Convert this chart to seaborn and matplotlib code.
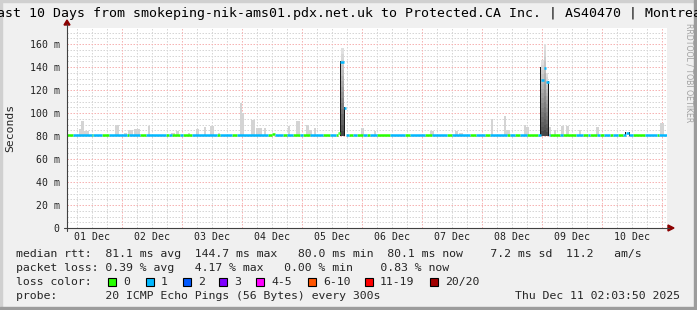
import matplotlib
matplotlib.use("Agg")
import matplotlib.pyplot as plt
import seaborn as sns
import pandas as pd
import numpy as np
from matplotlib.patches import Rectangle, Polygon
from matplotlib.lines import Line2D

# ---------------- data (hours since 2025-12-01 02:03:50, values in ms) ----------------
first_midnight_h = 21.936          # Dec 2 00:00 relative to start
span_h = 240.0
day_labels = ["01 Dec", "02 Dec", "03 Dec", "04 Dec", "05 Dec",
              "06 Dec", "07 Dec", "08 Dec", "09 Dec", "10 Dec"]
y_ticks = [0, 20, 40, 60, 80, 100, 120, 140, 160]
y_tick_labels = ["0", "20 m", "40 m", "60 m", "80 m", "100 m", "120 m", "140 m", "160 m"]

base_median = 80.5
# median excursions
med_start = [82.0, 108.4, 109.2, 110.8, 189.6, 190.8, 191.6, 223.6]
med_end   = [83.2, 109.2, 110.8, 111.6, 190.8, 191.6, 192.8, 224.8]
med_value = [81.8, 83.0, 144.7, 104.0, 128.7, 139.0, 127.0, 83.0]
med_loss  = ["0", "0", "1", "1", "1", "1", "1", "1"]

# periods with zero loss (green); elsewhere 1 loss (blue)
green_start = [0.0, 10.0, 14.0, 24.0, 29.2, 39.6, 42.0, 46.4, 60.0, 66.0, 80.4, 86.4, 90.4,
               94.4, 102.4, 107.6, 112.8, 116.0, 120.0, 124.0, 135.2, 143.2, 152.0, 161.2,
               167.2, 176.0, 179.2, 184.0, 193.2, 198.4, 206.4, 209.2, 213.2, 217.2, 220.4,
               226.4, 236.0]
green_end   = [2.4, 10.4, 16.8, 24.8, 31.6, 40.8, 45.2, 50.0, 61.2, 68.0, 83.2, 88.0, 93.2,
               97.2, 105.2, 108.8, 114.4, 118.4, 121.2, 129.2, 137.2, 146.0, 154.0, 163.6,
               169.2, 177.2, 181.2, 188.4, 197.2, 203.6, 208.4, 212.0, 214.8, 218.4, 222.4,
               231.2, 236.8]

# light smoke (ping spread) bars
smoke_start = [4.8, 5.6, 6.8, 19.2, 22.8, 24.4, 26.8, 32.4, 41.6, 43.6, 48.4, 51.6, 54.8, 57.2,
               60.4, 69.2, 70.0, 73.6, 75.6, 78.8, 88.4, 91.6, 95.6, 96.8, 98.8, 117.6, 122.8,
               145.2, 155.2, 156.8, 169.6, 174.8, 175.6, 182.8, 183.6, 192.8, 194.8, 197.6,
               199.6, 204.8, 211.6, 237.2]
smoke_end   = [5.6, 6.8, 8.8, 20.8, 24.0, 26.4, 29.2, 33.2, 43.2, 44.8, 49.2, 52.8, 55.6, 58.8,
               61.2, 70.0, 70.8, 75.2, 78.0, 79.6, 89.2, 93.2, 96.8, 98.0, 99.6, 118.8, 123.6,
               146.8, 156.4, 158.4, 170.4, 175.6, 177.2, 183.6, 184.8, 193.6, 195.6, 198.8,
               200.8, 205.6, 212.8, 238.8]
smoke_top   = [86, 93, 84, 90, 83, 85, 86, 89, 83, 84, 83, 86, 88, 89,
               83, 109, 100, 94, 87, 87, 89, 93, 90, 85, 87, 87, 84,
               84, 84, 83, 95, 97, 85, 90, 88, 88, 85, 89,
               89, 85, 88, 91]

# dense smoke around the latency spikes
spk_start = [109.2, 109.6, 110.8, 189.2, 189.6, 190.8, 191.6, 192.4, 223.2, 224.8]
spk_end   = [109.6, 110.8, 111.2, 189.6, 190.8, 191.6, 192.4, 192.8, 223.6, 225.2]
spk_low   = [80, 80, 80, 80, 80, 80, 80, 80, 80, 80]
spk_high  = [145, 156, 105, 140, 146, 160, 135, 128, 83.5, 83.5]
spk_kind  = ["edge", "grad", "edge", "edge", "grad", "grad", "grad", "edge", "edge", "edge"]

loss_labels = ["0", "1", "2", "3", "4-5", "6-10", "11-19", "20/20"]
loss_colors = ["#26ff00", "#00b8ff", "#0059ff", "#7e00ff", "#ff00ff", "#ff5500", "#ff0000", "#a10000"]

stats_line1 = "median rtt:  81.1 ms avg  144.7 ms max   80.0 ms min  80.1 ms now    7.2 ms sd  11.2   am/s"
stats_line2 = "packet loss: 0.39 % avg   4.17 % max   0.00 % min    0.83 % now"
probe_line = "probe:       20 ICMP Echo Pings (56 Bytes) every 300s"
stamp = "Thu Dec 11 02:03:50 2025"
title = "Last 10 Days from smokeping-nik-ams01.pdx.net.uk to Protected.CA Inc. | AS40470 | Montreal"

# ---------------- figure ----------------
sns.set_theme(style="white")
MONO = "DejaVu Sans Mono"
plt.rcParams["font.family"] = [MONO, "DejaVu Sans"]

W, H = 697, 310
fig = plt.figure(figsize=(W / 100, H / 100), dpi=100, facecolor="#f0f0f0")

def fx(px):
    return px / W

def fy(py):
    return 1 - py / H

# 3D border
fig.patches.append(Rectangle((0, fy(2)), 1, 2 / H, transform=fig.transFigure, color="#d0d0d0", zorder=0))
fig.patches.append(Rectangle((0, 0), 2 / W, 1, transform=fig.transFigure, color="#d0d0d0", zorder=0))
fig.patches.append(Rectangle((0, 0), 1, 3 / H, transform=fig.transFigure, color="#9c9c9c", zorder=0))
fig.patches.append(Rectangle((fx(694), 0), 3 / W, 1, transform=fig.transFigure, color="#9c9c9c", zorder=0))

L, R, T, B = 67, 667, 28, 228
ax = fig.add_axes([fx(L), fy(B), (R - L) / W, (B - T) / H])
ax.set_facecolor("white")
ax.set_xlim(0, span_h)
ax.set_ylim(0, 200 / 1.15)
for s in ax.spines.values():
    s.set_visible(False)

# grid
GRAY = "#d6d6d6"
RED = "#f6b4b4"
dash = dict(linewidth=0.72, dashes=(1.5, 1.5))
for v in np.arange(5, 175, 5):
    if v % 20:
        ax.axhline(v, color=GRAY, zorder=0.5, **dash)
for v in y_ticks[1:]:
    ax.axhline(v, color=RED, zorder=0.6, **dash)
minor_h = np.arange(first_midnight_h - 18, span_h, 6)
for h in minor_h:
    if h <= 0:
        continue
    is_major = abs(((h - first_midnight_h) / 24) - round((h - first_midnight_h) / 24)) < 1e-6
    ax.axvline(h, color=RED if is_major else GRAY, zorder=0.6 if is_major else 0.5, **dash)

# light smoke bars
ax.bar(smoke_start, np.array(smoke_top) - 80.0, bottom=80.0,
       width=np.array(smoke_end) - np.array(smoke_start), align="edge",
       color="#d4d4d4", linewidth=0, zorder=1)

# dense smoke with gradient
for a, b, lo, hi, kind in zip(spk_start, spk_end, spk_low, spk_high, spk_kind):
    if kind == "edge":
        ax.bar(a, hi - lo, bottom=lo, width=b - a, align="edge", color="#181818", linewidth=0, zorder=1.5)
    else:
        n = 16
        step = (hi - lo) / n
        for k in range(n):
            g = 0.28 + 0.6 * (k / (n - 1)) ** 0.9
            ax.bar(a, step * 1.02, bottom=lo + k * step, width=b - a, align="edge",
                   color=(g, g, g), linewidth=0, zorder=1.5)

# median line coloured by loss
bps = sorted(set([0.0, span_h] + green_start + green_end + med_start + med_end))
rows = []
for i in range(len(bps) - 1):
    a, b = bps[i], bps[i + 1]
    m = (a + b) / 2
    val, loss = base_median, "1"
    if any(gs <= m < ge for gs, ge in zip(green_start, green_end)):
        loss = "0"
    for ms, me, mv, ml in zip(med_start, med_end, med_value, med_loss):
        if ms <= m < me:
            val, loss = mv, ml
    rows.append((a, val, i, loss))
    rows.append((b, val, i, loss))
df = pd.DataFrame(rows, columns=["h", "ms", "seg", "loss"])
sns.lineplot(data=df, x="h", y="ms", hue="loss", units="seg", estimator=None,
             palette=dict(zip(loss_labels, loss_colors)), legend=False, sort=False,
             linewidth=1.8, ax=ax, zorder=3, solid_capstyle="butt")
ax.set_xlim(0, span_h)
ax.set_ylim(0, 200 / 1.15)

# ticks / labels
ax.set_yticks(y_ticks)
ax.set_yticklabels(y_tick_labels, fontsize=7.1, family=MONO, color="#202020")
noon_h = [first_midnight_h - 12 + 24 * k for k in range(10)]
ax.set_xticks(noon_h)
ax.set_xticklabels(day_labels, fontsize=7.1, family=MONO, color="#202020")
ax.tick_params(axis="y", length=0, pad=5.2)
ax.tick_params(axis="x", length=0, pad=3.2)
ax.set_xlabel("")
ax.set_ylabel("")
ax.grid(False)

# axes with arrows
AX = "#404040"
fig.add_artist(Line2D([fx(L), fx(L)], [fy(B + 3), fy(T - 4)], transform=fig.transFigure, color=AX, lw=0.8))
fig.add_artist(Line2D([fx(L - 3), fx(669)], [fy(B), fy(B)], transform=fig.transFigure, color=AX, lw=0.8))
fig.add_artist(Polygon([(fx(L - 3), fy(T - 3)), (fx(L + 3), fy(T - 3)), (fx(L), fy(T - 8))],
                       closed=True, transform=fig.transFigure, color="#8b0000"))
fig.add_artist(Polygon([(fx(668), fy(B - 3)), (fx(668), fy(B + 3)), (fx(674), fy(B))],
                       closed=True, transform=fig.transFigure, color="#8b0000"))

# texts
fig.text(fx(-11), fy(17), title, fontsize=9.5, family=MONO, ha="left", va="baseline", color="black")
fig.text(fx(10.5), fy(128), "Seconds", rotation=90, fontsize=8.2, family=MONO, ha="center", va="center")
fig.text(fx(689), fy(23), "RRDTOOL / TOBI OETIKER", rotation=270, fontsize=5.6,
         family="DejaVu Sans", ha="center", va="top", color="#a0a0a0")

LX = 16
fs = 8.25
fig.text(fx(LX), fy(254), stats_line1, fontsize=fs, family=MONO, ha="left", va="center")
fig.text(fx(LX), fy(268), stats_line2, fontsize=fs, family=MONO, ha="left", va="center")
fig.text(fx(LX), fy(282), "loss color:", fontsize=fs, family=MONO, ha="left", va="center")
box_x = [108, 146, 183, 219, 256, 308, 365, 430]
for bx, lab, col in zip(box_x, loss_labels, loss_colors):
    fig.patches.append(Rectangle((fx(bx), fy(286)), 8 / W, 8 / H, transform=fig.transFigure,
                                 facecolor=col, edgecolor="black", linewidth=0.8))
    fig.text(fx(bx + 15), fy(282), lab, fontsize=fs, family=MONO, ha="left", va="center")
fig.text(fx(LX), fy(296), probe_line, fontsize=fs, family=MONO, ha="left", va="center")
fig.text(fx(680), fy(296), stamp, fontsize=fs, family=MONO, ha="right", va="center")

fig.savefig("out.png", dpi=100, facecolor=fig.get_facecolor())
